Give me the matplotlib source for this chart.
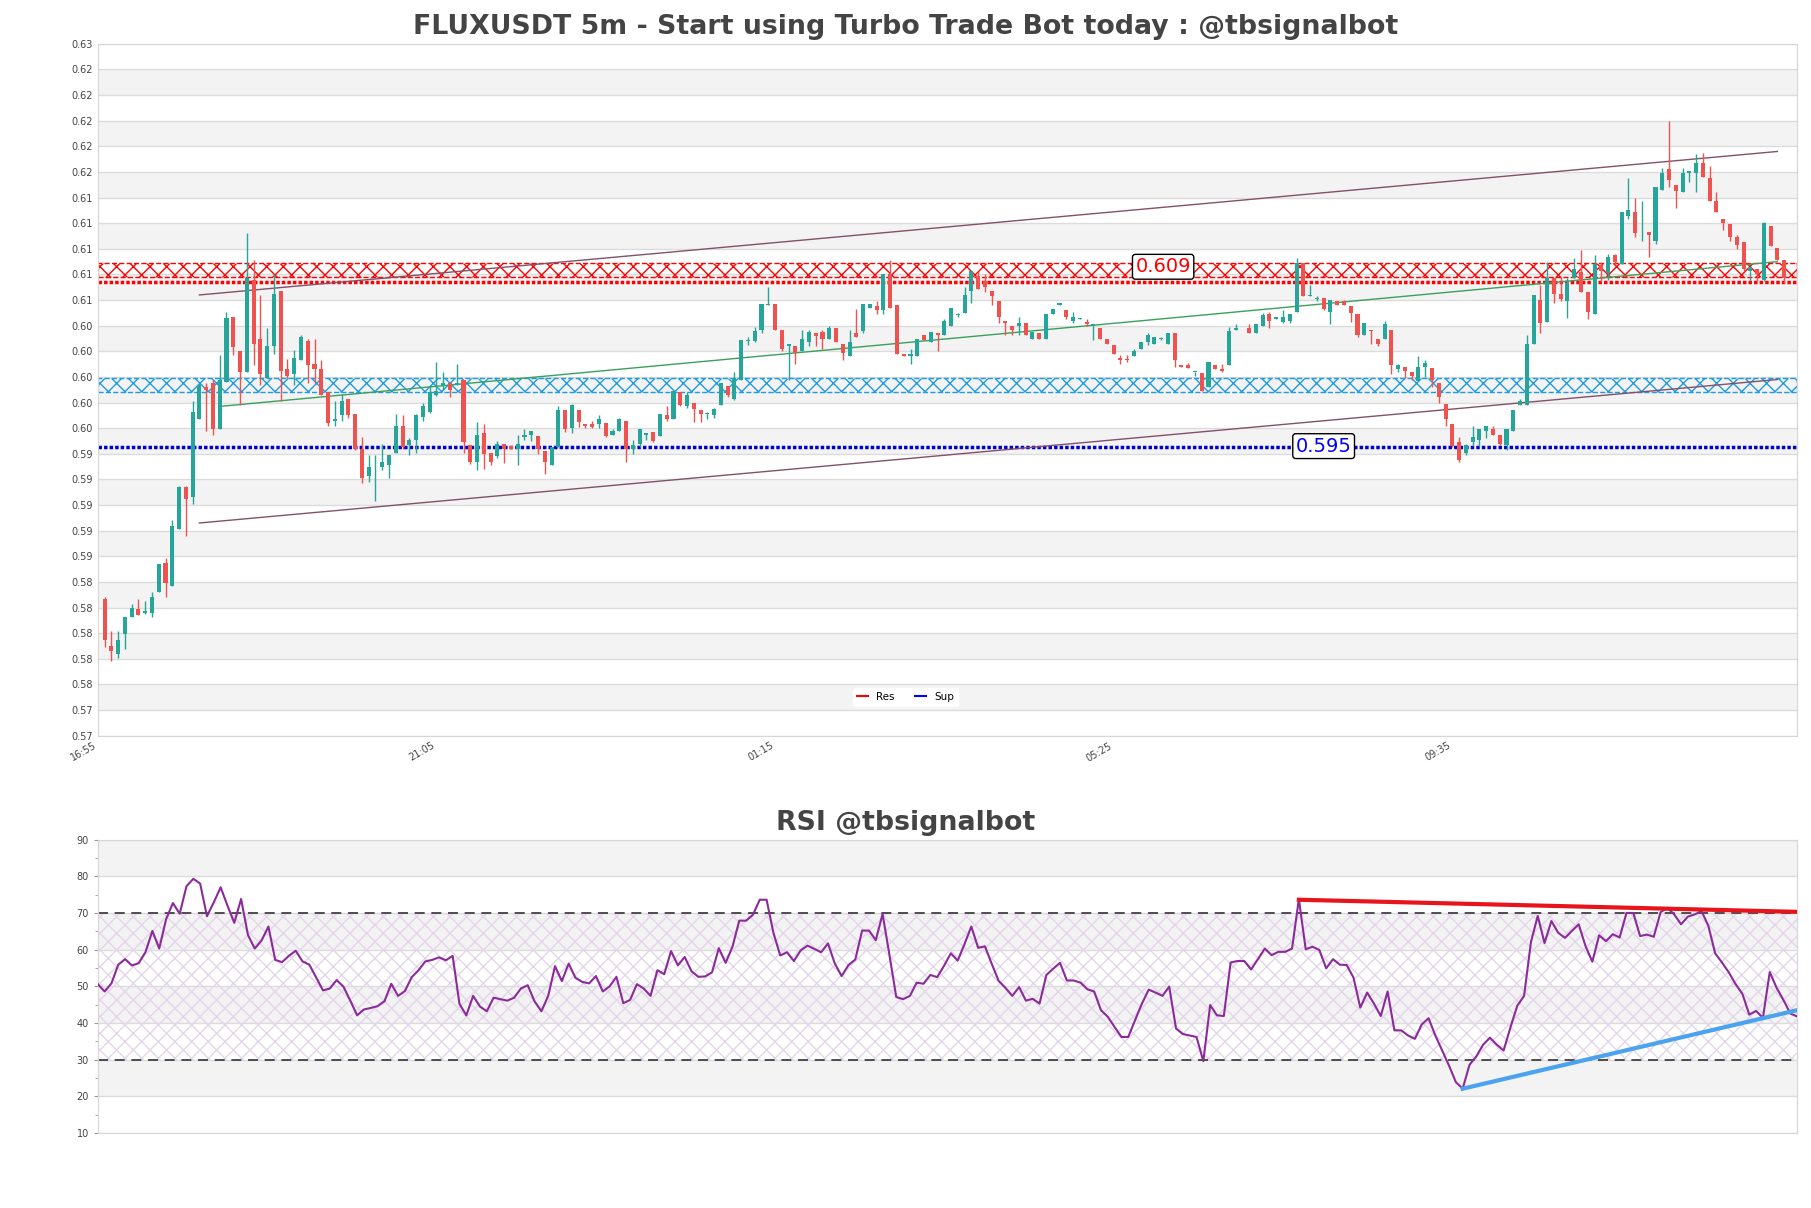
import matplotlib
matplotlib.use("Agg")
import matplotlib.pyplot as plt
import numpy as np
from matplotlib.lines import Line2D
from matplotlib.ticker import FormatStrFormatter, MultipleLocator

plt.rcParams['font.family'] = ['DejaVu Sans']
plt.rcParams['hatch.linewidth'] = 1.0

# 5m candles, FLUXUSDT
opens = [
    0.5827, 0.5790, 0.5784, 0.5799, 0.5813, 0.5819, 0.5816, 0.5816, 0.5832, 0.5855,
    0.5837, 0.5881, 0.5914, 0.5906, 0.5967, 0.5992, 0.5995, 0.5959, 0.5996, 0.6047,
    0.6020, 0.6004, 0.6076, 0.6030, 0.5999, 0.6024, 0.6067, 0.6006, 0.6002, 0.6013,
    0.6028, 0.6010, 0.6006, 0.5988, 0.5966, 0.5970, 0.5983, 0.5971, 0.5944, 0.5923,
    0.5931, 0.5930, 0.5931, 0.5941, 0.5962, 0.5947, 0.5951, 0.5969, 0.5973, 0.5986,
    0.5993, 0.5995, 0.5994, 0.5998, 0.5947, 0.5934, 0.5956, 0.5941, 0.5938, 0.5948,
    0.5946, 0.5944, 0.5953, 0.5955, 0.5954, 0.5942, 0.5931, 0.5945, 0.5974, 0.5960,
    0.5974, 0.5963, 0.5963, 0.5963, 0.5964, 0.5955, 0.5958, 0.5966, 0.5944, 0.5948,
    0.5955, 0.5957, 0.5954, 0.5970, 0.5967, 0.5988, 0.5977, 0.5980, 0.5974, 0.5971,
    0.5970, 0.5978, 0.5993, 0.5983, 0.5998, 0.6028, 0.6028, 0.6037, 0.6056, 0.6057,
    0.6037, 0.6024, 0.6024, 0.6020, 0.6027, 0.6034, 0.6035, 0.6030, 0.6038, 0.6026,
    0.6016, 0.6034, 0.6036, 0.6054, 0.6055, 0.6052, 0.6080, 0.6056, 0.6018, 0.6016,
    0.6016, 0.6033, 0.6027, 0.6034, 0.6033, 0.6040, 0.6048, 0.6050, 0.6067, 0.6079,
    0.6075, 0.6067, 0.6059, 0.6044, 0.6040, 0.6040, 0.6042, 0.6030, 0.6034, 0.6030,
    0.6049, 0.6056, 0.6052, 0.6044, 0.6045, 0.6043, 0.6040, 0.6038, 0.6030, 0.6025,
    0.6015, 0.6014, 0.6016, 0.6022, 0.6027, 0.6026, 0.6030, 0.6026, 0.6034, 0.6009,
    0.6009, 0.6004, 0.6003, 0.5992, 0.6009, 0.6006, 0.6009, 0.6037, 0.6038, 0.6038,
    0.6034, 0.6040, 0.6049, 0.6045, 0.6043, 0.6044, 0.6051, 0.6089, 0.6063, 0.6061,
    0.6062, 0.6051, 0.6059, 0.6059, 0.6055, 0.6049, 0.6033, 0.6037, 0.6030, 0.6030,
    0.6037, 0.6006, 0.6008, 0.6004, 0.5997, 0.6008, 0.6007, 0.5995, 0.5979, 0.5963,
    0.5949, 0.5941, 0.5949, 0.5951, 0.5958, 0.5959, 0.5955, 0.5947, 0.5958, 0.5978,
    0.5978, 0.6026, 0.6060, 0.6043, 0.6077, 0.6065, 0.6059, 0.6077, 0.6082, 0.6066,
    0.6049, 0.6087, 0.6081, 0.6095, 0.6088, 0.6126, 0.6129, 0.6113, 0.6113, 0.6106,
    0.6146, 0.6162, 0.6150, 0.6144, 0.6159, 0.6159, 0.6167, 0.6155, 0.6137, 0.6123,
    0.6119, 0.6109, 0.6105, 0.6083, 0.6084, 0.6076, 0.6118, 0.6101, 0.6091,
]
highs = [
    0.5828, 0.5802, 0.5802, 0.5813, 0.5823, 0.5827, 0.5825, 0.5832, 0.5854, 0.5859,
    0.5888, 0.5915, 0.5915, 0.5981, 0.5995, 0.5995, 0.5998, 0.6017, 0.6051, 0.6047,
    0.6020, 0.6112, 0.6091, 0.6064, 0.6038, 0.6080, 0.6067, 0.6014, 0.6021, 0.6033,
    0.6030, 0.6030, 0.6013, 0.5988, 0.5981, 0.5987, 0.5983, 0.5971, 0.5953, 0.5939,
    0.5939, 0.5948, 0.5939, 0.5971, 0.5970, 0.5952, 0.5971, 0.5980, 0.5994, 0.6012,
    0.6004, 0.5995, 0.6010, 0.5998, 0.5947, 0.5965, 0.5963, 0.5941, 0.5950, 0.5948,
    0.5946, 0.5955, 0.5959, 0.5958, 0.5954, 0.5942, 0.5945, 0.5977, 0.5974, 0.5979,
    0.5974, 0.5963, 0.5966, 0.5970, 0.5964, 0.5959, 0.5968, 0.5966, 0.5951, 0.5959,
    0.5956, 0.5957, 0.5971, 0.5977, 0.5989, 0.5988, 0.5988, 0.5980, 0.5974, 0.5973,
    0.5976, 0.5995, 0.5993, 0.6004, 0.6029, 0.6031, 0.6039, 0.6057, 0.6070, 0.6057,
    0.6037, 0.6026, 0.6024, 0.6037, 0.6037, 0.6034, 0.6037, 0.6040, 0.6038, 0.6026,
    0.6037, 0.6053, 0.6057, 0.6057, 0.6059, 0.6080, 0.6091, 0.6056, 0.6018, 0.6022,
    0.6030, 0.6033, 0.6035, 0.6034, 0.6045, 0.6054, 0.6050, 0.6070, 0.6083, 0.6083,
    0.6080, 0.6067, 0.6059, 0.6044, 0.6040, 0.6047, 0.6042, 0.6035, 0.6034, 0.6049,
    0.6053, 0.6058, 0.6052, 0.6051, 0.6046, 0.6045, 0.6041, 0.6038, 0.6030, 0.6025,
    0.6017, 0.6017, 0.6022, 0.6027, 0.6034, 0.6031, 0.6031, 0.6034, 0.6034, 0.6009,
    0.6011, 0.6004, 0.6003, 0.6012, 0.6009, 0.6010, 0.6039, 0.6041, 0.6038, 0.6041,
    0.6041, 0.6050, 0.6051, 0.6047, 0.6052, 0.6049, 0.6093, 0.6089, 0.6072, 0.6063,
    0.6062, 0.6060, 0.6059, 0.6060, 0.6055, 0.6049, 0.6042, 0.6037, 0.6030, 0.6044,
    0.6037, 0.6010, 0.6008, 0.6004, 0.6016, 0.6013, 0.6007, 0.5995, 0.5979, 0.5963,
    0.5953, 0.5948, 0.5962, 0.5959, 0.5962, 0.5962, 0.5955, 0.5959, 0.5974, 0.5983,
    0.6033, 0.6064, 0.6072, 0.6090, 0.6077, 0.6078, 0.6077, 0.6093, 0.6099, 0.6066,
    0.6095, 0.6090, 0.6096, 0.6096, 0.6129, 0.6155, 0.6140, 0.6137, 0.6113, 0.6148,
    0.6163, 0.6200, 0.6150, 0.6163, 0.6161, 0.6174, 0.6175, 0.6165, 0.6144, 0.6123,
    0.6119, 0.6111, 0.6105, 0.6086, 0.6084, 0.6121, 0.6118, 0.6101, 0.6091,
]
lows = [
    0.5789, 0.5778, 0.5781, 0.5788, 0.5813, 0.5814, 0.5815, 0.5813, 0.5832, 0.5828,
    0.5837, 0.5881, 0.5876, 0.5901, 0.5967, 0.5958, 0.5955, 0.5959, 0.5996, 0.6017,
    0.5978, 0.6004, 0.6009, 0.5994, 0.5999, 0.6018, 0.5981, 0.5999, 0.5994, 0.6013,
    0.5995, 0.5995, 0.5986, 0.5962, 0.5962, 0.5966, 0.5968, 0.5943, 0.5917, 0.5918,
    0.5903, 0.5927, 0.5921, 0.5941, 0.5944, 0.5939, 0.5941, 0.5966, 0.5972, 0.5985,
    0.5990, 0.5984, 0.5994, 0.5941, 0.5932, 0.5927, 0.5928, 0.5931, 0.5937, 0.5933,
    0.5944, 0.5931, 0.5951, 0.5950, 0.5940, 0.5924, 0.5931, 0.5945, 0.5957, 0.5956,
    0.5961, 0.5960, 0.5960, 0.5960, 0.5953, 0.5955, 0.5958, 0.5934, 0.5940, 0.5945,
    0.5951, 0.5949, 0.5954, 0.5966, 0.5967, 0.5977, 0.5976, 0.5965, 0.5965, 0.5967,
    0.5968, 0.5978, 0.5984, 0.5982, 0.5998, 0.6025, 0.6027, 0.6034, 0.6056, 0.6037,
    0.6020, 0.5998, 0.6010, 0.6020, 0.6024, 0.6024, 0.6022, 0.6030, 0.6027, 0.6013,
    0.6016, 0.6031, 0.6034, 0.6054, 0.6049, 0.6049, 0.6054, 0.6018, 0.6016, 0.6010,
    0.6016, 0.6029, 0.6027, 0.6020, 0.6033, 0.6040, 0.6047, 0.6050, 0.6058, 0.6069,
    0.6066, 0.6056, 0.6042, 0.6033, 0.6033, 0.6033, 0.6033, 0.6030, 0.6030, 0.6030,
    0.6049, 0.6056, 0.6045, 0.6042, 0.6045, 0.6040, 0.6029, 0.6030, 0.6026, 0.6018,
    0.6010, 0.6012, 0.6016, 0.6022, 0.6025, 0.6026, 0.6029, 0.6026, 0.6008, 0.6008,
    0.6007, 0.6001, 0.5989, 0.5992, 0.6006, 0.6004, 0.6009, 0.6037, 0.6038, 0.6034,
    0.6034, 0.6040, 0.6038, 0.6045, 0.6042, 0.6042, 0.6051, 0.6063, 0.6063, 0.6059,
    0.6052, 0.6041, 0.6056, 0.6056, 0.6043, 0.6031, 0.6033, 0.6026, 0.6024, 0.6030,
    0.6002, 0.6004, 0.5999, 0.5998, 0.5997, 0.6000, 0.5992, 0.5980, 0.5962, 0.5945,
    0.5934, 0.5939, 0.5946, 0.5946, 0.5952, 0.5955, 0.5947, 0.5943, 0.5958, 0.5978,
    0.5978, 0.6026, 0.6034, 0.6043, 0.6058, 0.6059, 0.6046, 0.6077, 0.6066, 0.6045,
    0.6049, 0.6074, 0.6076, 0.6087, 0.6088, 0.6123, 0.6109, 0.6106, 0.6094, 0.6104,
    0.6146, 0.6148, 0.6132, 0.6144, 0.6152, 0.6144, 0.6156, 0.6137, 0.6129, 0.6115,
    0.6106, 0.6100, 0.6083, 0.6075, 0.6075, 0.6075, 0.6102, 0.6091, 0.6073,
]
closes = [
    0.5795, 0.5786, 0.5795, 0.5813, 0.5820, 0.5814, 0.5817, 0.5828, 0.5854, 0.5839,
    0.5884, 0.5914, 0.5905, 0.5973, 0.5994, 0.5990, 0.5959, 0.5998, 0.6046, 0.6023,
    0.6004, 0.6077, 0.6026, 0.6002, 0.6024, 0.6065, 0.6005, 0.6001, 0.6015, 0.6031,
    0.6009, 0.6006, 0.5986, 0.5964, 0.5967, 0.5981, 0.5970, 0.5944, 0.5921, 0.5930,
    0.5931, 0.5934, 0.5939, 0.5962, 0.5945, 0.5951, 0.5970, 0.5977, 0.5988, 0.5989,
    0.5995, 0.5990, 0.5995, 0.5949, 0.5934, 0.5955, 0.5940, 0.5934, 0.5948, 0.5944,
    0.5944, 0.5948, 0.5955, 0.5958, 0.5944, 0.5934, 0.5945, 0.5974, 0.5959, 0.5978,
    0.5965, 0.5962, 0.5961, 0.5967, 0.5954, 0.5958, 0.5967, 0.5944, 0.5947, 0.5959,
    0.5956, 0.5950, 0.5971, 0.5967, 0.5989, 0.5978, 0.5986, 0.5975, 0.5971, 0.5972,
    0.5975, 0.5995, 0.5986, 0.5999, 0.6029, 0.6029, 0.6036, 0.6057, 0.6057, 0.6037,
    0.6022, 0.6026, 0.6019, 0.6030, 0.6035, 0.6032, 0.6030, 0.6038, 0.6027, 0.6019,
    0.6027, 0.6031, 0.6057, 0.6057, 0.6052, 0.6080, 0.6054, 0.6018, 0.6016, 0.6018,
    0.6030, 0.6029, 0.6035, 0.6033, 0.6044, 0.6054, 0.6049, 0.6064, 0.6083, 0.6069,
    0.6070, 0.6063, 0.6047, 0.6042, 0.6037, 0.6042, 0.6033, 0.6035, 0.6030, 0.6049,
    0.6053, 0.6058, 0.6047, 0.6047, 0.6046, 0.6041, 0.6041, 0.6030, 0.6026, 0.6018,
    0.6013, 0.6013, 0.6020, 0.6027, 0.6033, 0.6031, 0.6030, 0.6034, 0.6013, 0.6008,
    0.6007, 0.6004, 0.5989, 0.6012, 0.6006, 0.6005, 0.6036, 0.6038, 0.6038, 0.6034,
    0.6041, 0.6048, 0.6044, 0.6047, 0.6047, 0.6049, 0.6089, 0.6063, 0.6064, 0.6062,
    0.6053, 0.6060, 0.6056, 0.6056, 0.6050, 0.6033, 0.6042, 0.6036, 0.6026, 0.6041,
    0.6009, 0.6009, 0.6005, 0.6001, 0.6008, 0.6011, 0.5998, 0.5984, 0.5967, 0.5946,
    0.5935, 0.5947, 0.5953, 0.5959, 0.5962, 0.5955, 0.5948, 0.5959, 0.5974, 0.5981,
    0.6026, 0.6064, 0.6042, 0.6077, 0.6065, 0.6061, 0.6073, 0.6084, 0.6066, 0.6051,
    0.6088, 0.6083, 0.6094, 0.6090, 0.6129, 0.6130, 0.6112, 0.6113, 0.6111, 0.6148,
    0.6159, 0.6154, 0.6145, 0.6159, 0.6161, 0.6167, 0.6156, 0.6137, 0.6129, 0.6120,
    0.6109, 0.6103, 0.6084, 0.6086, 0.6080, 0.6120, 0.6102, 0.6091, 0.6077,
]

rsi = [
    50.6, 48.6, 50.8, 55.9, 57.4, 55.7, 56.3, 59.4, 65.1, 60.3,
    68.2, 72.7, 69.8, 77.3, 79.3, 78.0, 69.1, 72.9, 77.0, 72.0,
    67.3, 73.8, 64.0, 60.3, 62.5, 66.3, 57.2, 56.6, 58.3, 59.7,
    56.8, 55.9, 52.4, 48.9, 49.4, 51.7, 49.9, 46.1, 42.1, 43.7,
    44.1, 44.6, 45.9, 50.7, 47.4, 48.7, 52.5, 54.4, 56.8, 57.2,
    57.9, 57.1, 58.3, 45.2, 42.1, 47.4, 44.5, 43.2, 46.9, 46.5,
    46.1, 46.9, 49.4, 50.3, 45.9, 43.2, 47.4, 55.5, 51.4, 56.2,
    52.3, 51.2, 50.8, 52.8, 48.6, 50.0, 52.6, 45.4, 46.3, 50.6,
    49.4, 47.4, 54.4, 53.3, 59.6, 55.7, 58.0, 54.1, 52.6,
    52.7, 53.8, 60.4, 56.4, 60.8, 67.9, 67.9, 69.5, 73.6, 73.6,
    64.6, 58.4, 59.3, 56.9, 59.8, 61.1, 60.2, 59.3, 61.7, 56.2,
    52.8, 55.8, 57.3, 65.2, 65.2, 62.6, 69.7, 58.6, 47.1, 46.5,
    47.4, 51.0, 50.7, 53.1, 52.5, 55.6, 59.0, 57.0, 61.5, 66.3,
    60.5, 60.9, 56.1, 51.5, 49.6, 47.4, 49.8, 46.1, 46.6, 45.3,
    53.1, 54.8, 56.4, 51.6, 51.6, 51.0, 49.2, 48.6, 43.5, 41.7,
    38.9, 36.2, 36.2, 40.8, 45.3, 49.1,
    48.3, 47.4, 49.9, 38.5, 37.0, 36.6, 36.2, 29.6, 44.9, 42.1,
    41.9, 56.5, 56.9, 56.9, 54.6, 57.4, 60.3, 58.5, 59.4, 59.4,
    60.3, 73.8, 60.1, 60.8, 59.9, 54.9, 57.4, 55.9, 55.8, 52.4,
    44.2, 48.3, 45.3, 41.9, 48.6, 38.0, 38.0, 36.6, 35.7, 39.6,
    41.3, 36.6, 32.5, 28.4, 23.9, 22.1, 28.6, 30.9, 34.1, 36.0,
    34.1, 32.5, 38.8, 44.7, 47.4, 62.0, 69.2, 61.8, 67.8, 64.6,
    63.2, 65.1, 66.9, 61.0, 56.7, 63.9, 62.3, 64.2, 63.3, 70.0,
    70.0, 63.7, 64.1, 63.5, 70.2, 71.4, 69.6, 66.9, 69.0, 69.6,
    70.5, 66.5, 59.0, 56.5, 53.8, 50.6, 47.9, 42.3, 43.3, 41.4,
    53.9, 49.6, 46.3, 42.6, 41.8,
]

xtick_pos = [0, 50, 100, 150, 200]
xtick_labels = ["16:55", "21:05", "01:15", "05:25", "09:35"]

res_zone = [0.6078, 0.6089]
res_level = 0.6074
sup_zone = [0.5988, 0.5999]
sup_level = 0.5945

upper_x, upper_y = [15, 248], [0.6064, 0.6176]
lower_x, lower_y = [15, 248], [0.5886, 0.5998]
mid_x, mid_y = [18, 248], [0.5977, 0.6090]

rsi_res_x, rsi_res_y = [176, 249], [73.6, 70.3]
rsi_sup_x, rsi_sup_y = [200, 249], [22.1, 43.5]

GREEN = '#26a69a'
RED = '#ef5350'
TXT = '#444444'

AX_L, AX_W = 0.054, 0.9383
fig = plt.figure(figsize=(18.11, 12.08), dpi=100)
ax = fig.add_axes([AX_L, 0.391, AX_W, 0.5727])
ax2 = fig.add_axes([AX_L, 0.062, AX_W, 0.243])
title_x = (0.5 - AX_L) / AX_W  # titles are centred on the figure, not the axes

# ---- price panel ----
yt = np.linspace(0.572, 0.626, 28)
for i in range(len(yt) - 1):
    if i % 2 == 1:
        ax.axhspan(yt[i], yt[i + 1], color='#f3f3f3', lw=0, zorder=0)
ax.set_ylim(0.572, 0.626)
ax.set_yticks(yt)
ax.yaxis.set_major_formatter(FormatStrFormatter('%.2f'))
ax.grid(axis='y', color='#dcdcdc', lw=1, zorder=0.5)
ax.set_axisbelow(True)

o, h, l, c = (np.array(v) for v in (opens, highs, lows, closes))
x = np.arange(1, len(o) + 1)
cols = np.where(c >= o, GREEN, RED)
ax.vlines(x, l, h, colors=cols, lw=1, zorder=4)
ax.bar(x, np.maximum(np.abs(c - o), 0.00005), bottom=np.minimum(o, c),
       width=0.6, color=cols, zorder=5)

ax.axhspan(res_zone[0], res_zone[1], facecolor='none', edgecolor='red',
           hatch='xx', ls='--', lw=1, zorder=2)
ax.axhline(res_level, color='red', ls=(0, (1, 0.6)), lw=2.5, zorder=2)
ax.axhspan(sup_zone[0], sup_zone[1], facecolor='none', edgecolor='#1f9be0',
           hatch='xx', ls='--', lw=1, zorder=2)
ax.axhline(sup_level, color='#0000cc', ls=(0, (1, 0.6)), lw=2.5, zorder=2)

ax.plot(upper_x, upper_y, color='#84506a', lw=1, zorder=3)
ax.plot(lower_x, lower_y, color='#84506a', lw=1, zorder=3)
ax.plot(mid_x, mid_y, color='#3aa05a', lw=1, zorder=3)

box = dict(boxstyle='round,pad=0.15', fc='white', ec='black', lw=1)
ax.text(157.3, 0.6086, '0.609', color='red', fontsize=14,
        ha='center', va='center', bbox=box, zorder=7)
ax.text(181, 0.5946, '0.595', color='blue', fontsize=14,
        ha='center', va='center', bbox=box, zorder=7)

handles = [Line2D([], [], color='red', lw=1.5, label='Res'),
           Line2D([], [], color='blue', lw=1.5, label='Sup')]
ax.legend(handles=handles, loc='lower center', bbox_to_anchor=(title_x, 0.035), ncol=2,
          fontsize=7.5, handlelength=1, frameon=True, edgecolor='white', framealpha=1)

ax.set_xlim(0, 250.9)
ax.set_xticks(xtick_pos)
ax.set_xticklabels(xtick_labels, rotation=30, ha='right')
ax.tick_params(axis='both', labelsize=7, colors=TXT, length=0)
for s in ax.spines.values():
    s.set_color('#d6d6d6')
ax.set_title("FLUXUSDT 5m - Start using Turbo Trade Bot today : @tbsignalbot",
             fontsize=19.3, fontweight='bold', color=TXT, pad=7, x=title_x)

# ---- RSI panel ----
rx = np.arange(len(rsi))
for lo in (20, 40, 60, 80):
    ax2.axhspan(lo, lo + 10, color='#f3f3f3', lw=0, zorder=0)
ax2.fill_between([0, len(rsi) - 1], 30, 70, facecolor='none', edgecolor='#e4d6ea',
                 hatch='xx', lw=0, zorder=1)
ax2.axhline(70, color='#333333', ls=(0, (6, 4)), lw=1.2, zorder=2)
ax2.axhline(30, color='#333333', ls=(0, (6, 4)), lw=1.2, zorder=2)
ax2.plot(rx, rsi, color='#8c2a9c', lw=1.5, zorder=3)
ax2.plot(rsi_res_x, rsi_res_y, color='#e8141c', lw=3, zorder=4)
ax2.plot(rsi_sup_x, rsi_sup_y, color='#4ba3ef', lw=3, zorder=4)

ax2.set_xlim(0, len(rsi) - 1)
ax2.set_ylim(10, 90)
ax2.set_yticks(range(10, 91, 10))
ax2.yaxis.set_minor_locator(MultipleLocator(5))
ax2.set_xticks([])
ax2.grid(axis='y', color='#dcdcdc', lw=1, zorder=0.5)
ax2.set_axisbelow(True)
ax2.tick_params(axis='y', labelsize=7, colors=TXT, length=3)
ax2.tick_params(axis='y', which='minor', length=2, color='#999999')
ax2.tick_params(axis='y', which='major', color='#999999')
for s in ax2.spines.values():
    s.set_color('#d6d6d6')
ax2.set_title("RSI @tbsignalbot", fontsize=19.3, fontweight='bold', color=TXT,
              pad=7, x=title_x)

fig.savefig("out.png", dpi=100)
